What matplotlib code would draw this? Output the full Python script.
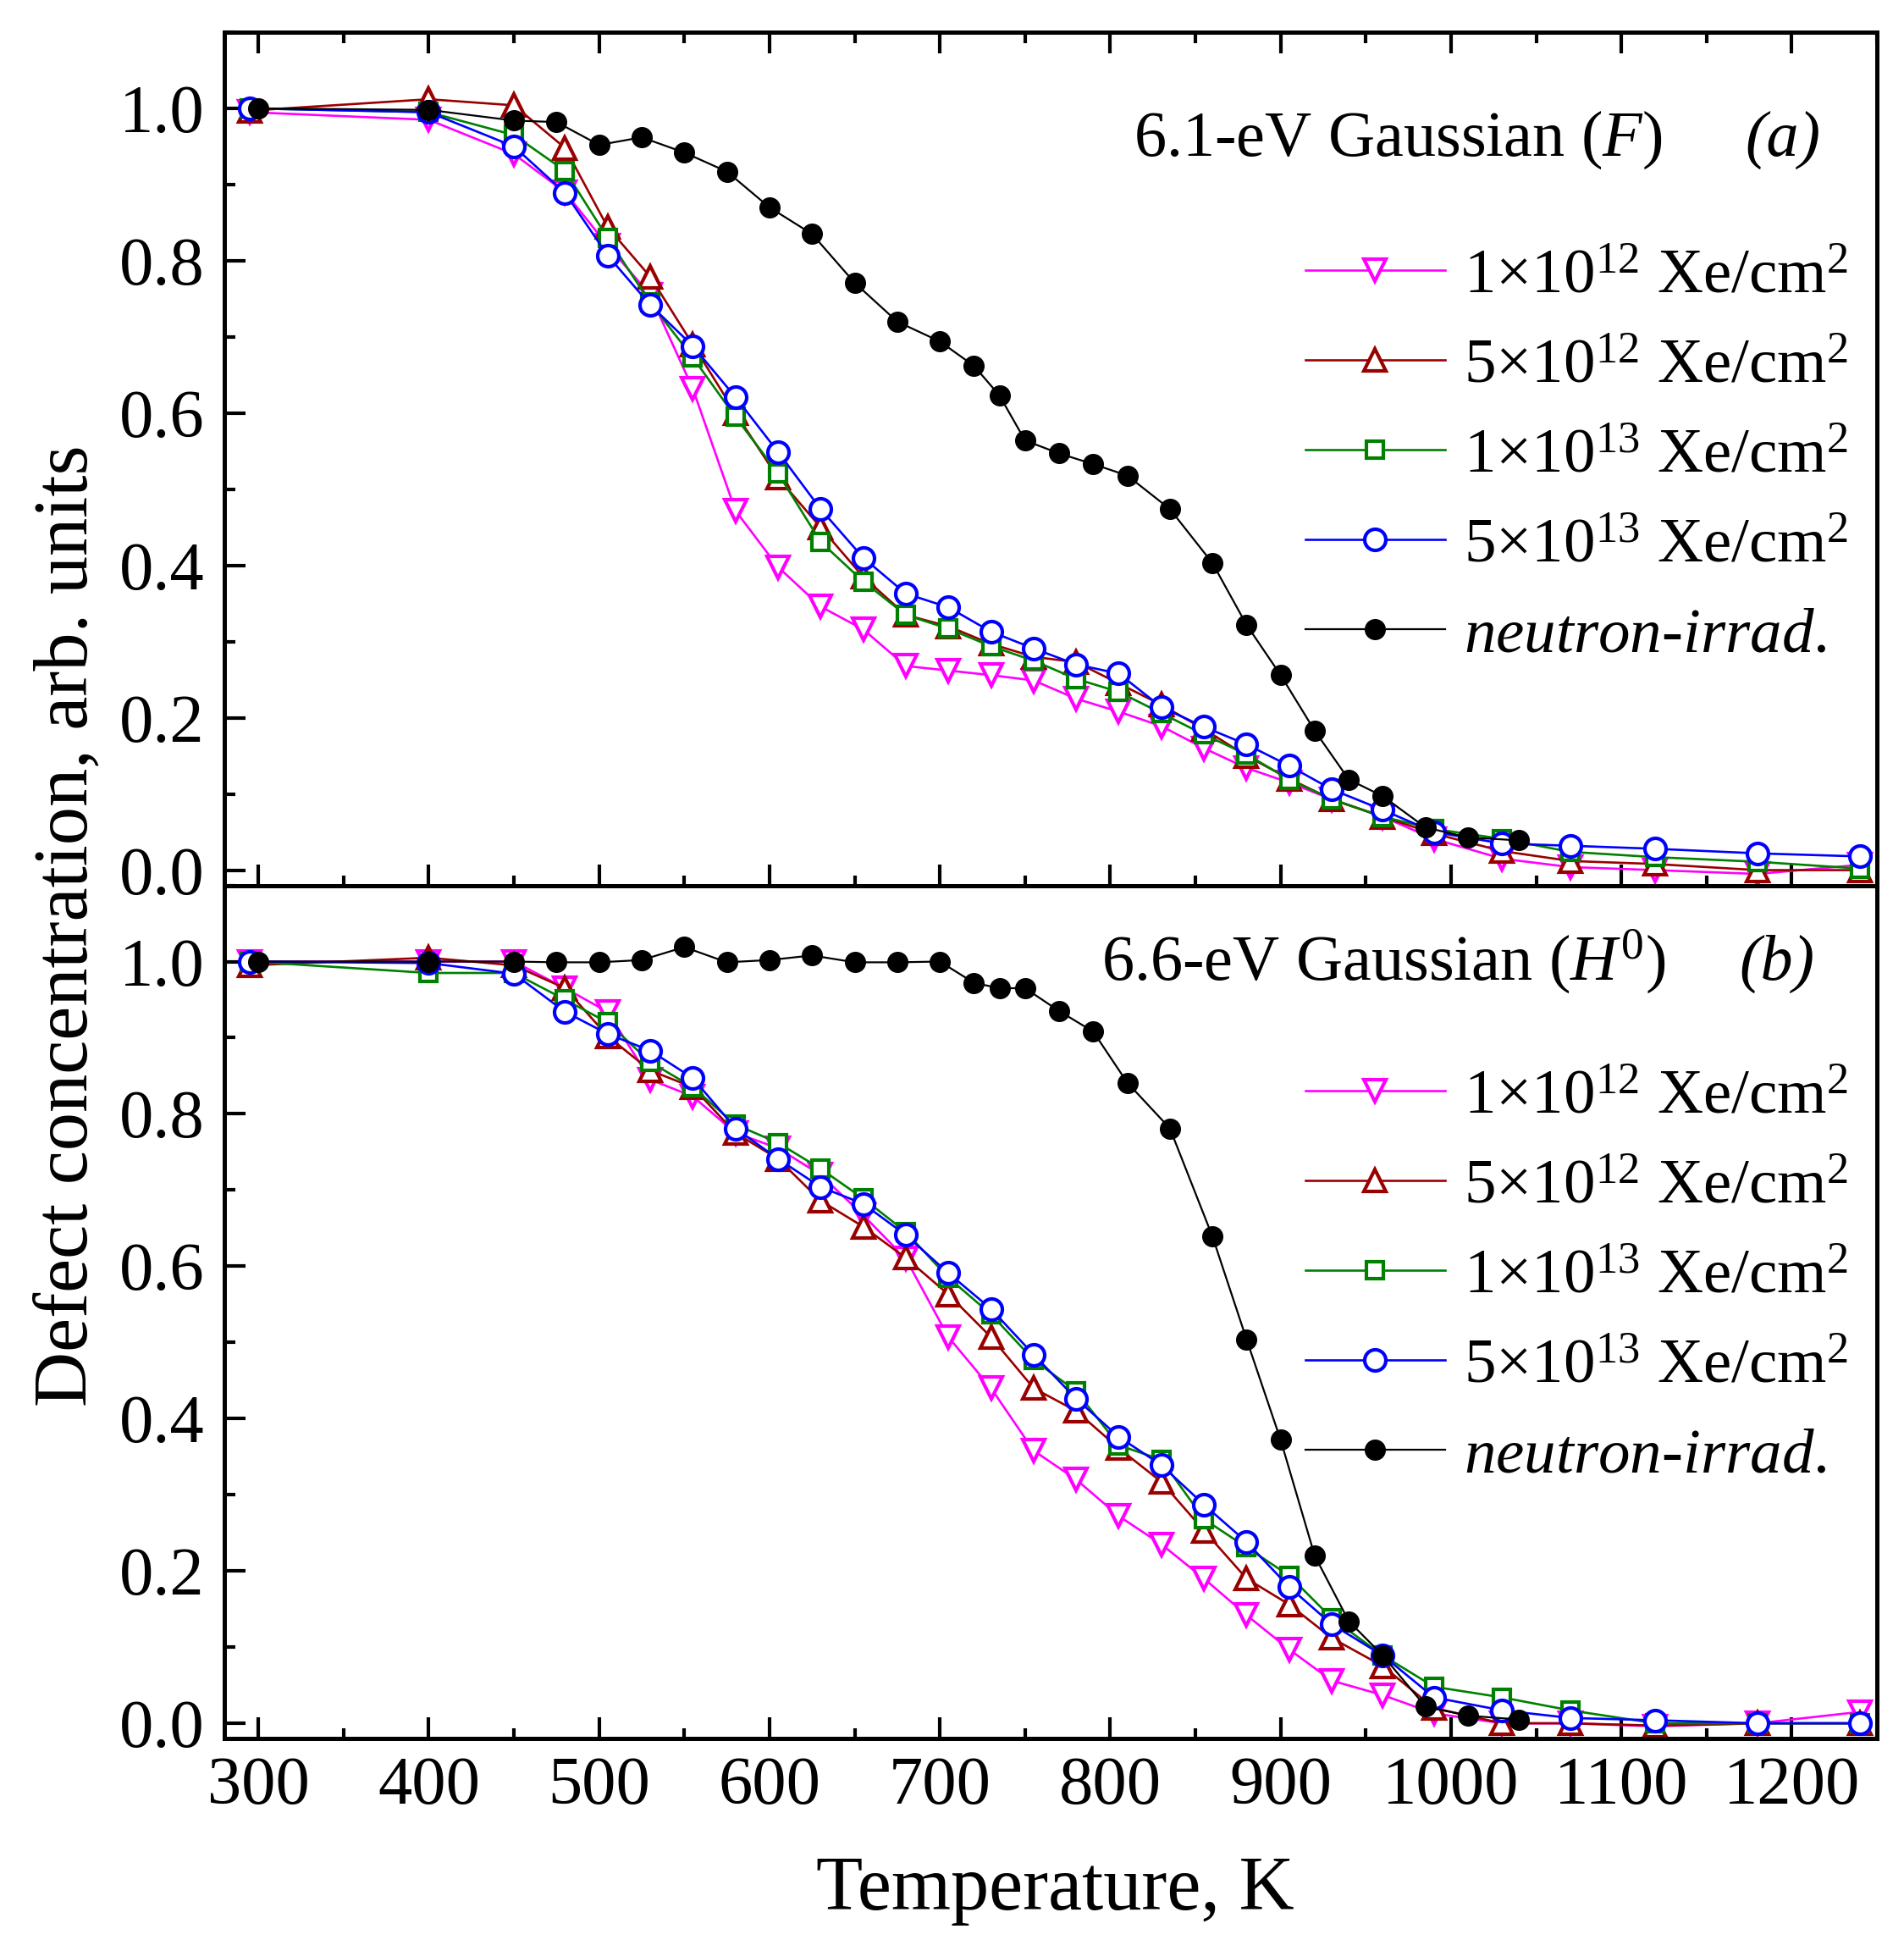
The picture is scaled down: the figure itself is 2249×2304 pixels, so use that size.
import matplotlib
matplotlib.use('Agg')
import matplotlib.pyplot as plt
from matplotlib.ticker import MultipleLocator, FormatStrFormatter

plt.rcParams['font.family'] = ['Liberation Serif', 'DejaVu Serif']
plt.rcParams['mathtext.fontset'] = 'custom'
plt.rcParams['mathtext.rm'] = 'Liberation Serif'
plt.rcParams['mathtext.it'] = 'Liberation Serif:italic'

# annealing temperatures, K
temp = [295, 400, 450, 480, 505, 530, 555, 580, 605, 630, 655, 680, 705, 730, 755,
        780, 805, 830, 855, 880, 905, 930, 960, 990, 1030, 1070, 1120, 1180, 1240]
temp_n = [300, 400, 450, 475, 500, 525, 550, 575, 600, 625, 650, 675, 700, 720, 735,
          750, 770, 790, 810, 835, 860, 880, 900, 920, 940, 960, 985, 1010, 1040]

# (a) 6.1-eV band (F centres)
a_1e12 = [0.995, 0.985, 0.94, 0.89, 0.82, 0.755, 0.632, 0.472, 0.398, 0.346, 0.316, 0.268,
          0.262, 0.256, 0.249, 0.225, 0.208, 0.189, 0.160, 0.134, 0.115, 0.093, 0.070,
          0.041, 0.015, 0.004, 0.0, -0.005, 0.007]
a_5e12 = [0.997, 1.012, 1.004, 0.948, 0.844, 0.779, 0.69, 0.60, 0.515, 0.45, 0.385, 0.335,
          0.32, 0.297, 0.28, 0.273, 0.245, 0.217, 0.185, 0.15, 0.12, 0.093, 0.07, 0.048,
          0.025, 0.012, 0.008, 0.0, 0.0]
a_1e13 = [1.0, 0.995, 0.965, 0.918, 0.83, 0.745, 0.673, 0.595, 0.521, 0.431, 0.379, 0.335,
          0.317, 0.294, 0.275, 0.251, 0.234, 0.206, 0.178, 0.152, 0.119, 0.093, 0.07,
          0.054, 0.041, 0.024, 0.017, 0.011, 0.002]
a_5e13 = [1.0, 0.995, 0.95, 0.889, 0.807, 0.742, 0.688, 0.621, 0.549, 0.474, 0.41, 0.363,
          0.345, 0.313, 0.291, 0.27, 0.258, 0.214, 0.188, 0.165, 0.137, 0.106, 0.079,
          0.05, 0.035, 0.032, 0.028, 0.022, 0.018]
a_neutron = [1.0, 0.998, 0.984, 0.982, 0.952, 0.962, 0.942, 0.917, 0.870, 0.835, 0.771,
             0.72, 0.694, 0.662, 0.623, 0.564, 0.547, 0.533, 0.518, 0.474, 0.403, 0.322,
             0.256, 0.183, 0.119, 0.097, 0.056, 0.043, 0.039]

# (b) 6.6-eV band (H0 centres)
b_1e12 = [1.0, 1.0, 1.0, 0.965, 0.934, 0.845, 0.823, 0.775, 0.755, 0.72, 0.667, 0.61,
          0.507, 0.44, 0.358, 0.32, 0.272, 0.235, 0.19, 0.142, 0.097, 0.056, 0.037,
          0.013, 0.0, 0.0, -0.004, 0.0, 0.015]
b_5e12 = [0.995, 1.005, 0.995, 0.965, 0.902, 0.857, 0.835, 0.775, 0.741, 0.686, 0.652,
          0.611, 0.563, 0.507, 0.44, 0.41, 0.361, 0.317, 0.253, 0.19, 0.156, 0.112,
          0.075, 0.02, 0.0, 0.0, -0.003, 0.0, 0.0]
b_1e13 = [1.0, 0.985, 0.985, 0.95, 0.92, 0.868, 0.835, 0.786, 0.762, 0.728, 0.689, 0.645,
          0.585, 0.537, 0.477, 0.436, 0.365, 0.346, 0.268, 0.231, 0.194, 0.138, 0.089,
          0.048, 0.034, 0.017, 0.0, 0.0, 0.0]
b_5e13 = [1.0, 0.998, 0.984, 0.934, 0.905, 0.883, 0.847, 0.781, 0.741, 0.704, 0.682,
          0.641, 0.591, 0.544, 0.484, 0.426, 0.376, 0.339, 0.287, 0.238, 0.179, 0.13,
          0.089, 0.034, 0.017, 0.007, 0.004, 0.0, 0.0]
b_neutron = [1.0, 1.0, 1.0, 0.999, 0.999, 1.002, 1.019, 0.999, 1.002, 1.008, 0.999, 0.999,
             1.0, 0.972, 0.965, 0.965, 0.935, 0.908, 0.841, 0.781, 0.639, 0.504, 0.372,
             0.22, 0.134, 0.089, 0.022, 0.01, 0.005]

labels = ['1\u00d710$^{12}$ Xe/cm$^{2}$', '5\u00d710$^{12}$ Xe/cm$^{2}$',
          '1\u00d710$^{13}$ Xe/cm$^{2}$', '5\u00d710$^{13}$ Xe/cm$^{2}$',
          r'$\it{neutron}$-$\it{irrad.}$']

# (color, marker, size, filled)
styles = [('#FF00FF', 'v', 19, False),
          ('#990000', '^', 19, False),
          ('#008000', 's', 14, False),
          ('#0000FF', 'o', 18, False),
          ('black', 'o', 17, True)]

panels = [
    dict(series=[a_1e12, a_5e12, a_1e13, a_5e13, a_neutron],
         title='6.1-eV Gaussian ($F$)', tag='(a)',
         title_pos=(0.870, 0.855), tag_pos=(0.966, 0.855), leg_pos=(0.654, 0.747)),
    dict(series=[b_1e12, b_5e12, b_1e13, b_5e13, b_neutron],
         title='6.6-eV Gaussian ($H^0$)', tag='(b)',
         title_pos=(0.872, 0.890), tag_pos=(0.962, 0.890), leg_pos=(0.654, 0.785)),
]

fig, axes = plt.subplots(2, 1, figsize=(22.49, 23.04), dpi=100, sharex=True)
fig.subplots_adjust(left=0.1178, right=0.9858, top=0.9835, bottom=0.1089, hspace=0)

for i, (ax, p) in enumerate(zip(axes, panels)):
    for k, (ys, lab, (col, mk, ms, filled)) in enumerate(zip(p['series'], labels, styles)):
        xs = temp_n if k == 4 else temp
        ax.plot(xs, ys, color=col, lw=1.6 if filled else 1.9, marker=mk, ms=ms,
                mew=3.0 if not filled else 1.0,
                mfc=col if filled else 'white', mec=col, label=lab)

    ax.set_xlim(280, 1250)
    ax.set_ylim(-0.02, 1.1)
    ax.xaxis.set_major_locator(MultipleLocator(100))
    ax.xaxis.set_minor_locator(MultipleLocator(50))
    ax.yaxis.set_major_locator(MultipleLocator(0.2))
    ax.yaxis.set_minor_locator(MultipleLocator(0.1))
    ax.yaxis.set_major_formatter(FormatStrFormatter('%.1f'))
    ax.tick_params(which='both', direction='in', top=(i == 0), right=False, width=3)
    ax.tick_params(which='major', length=18)
    ax.tick_params(which='minor', length=9)
    ax.tick_params(axis='y', labelsize=58, pad=17)
    ax.tick_params(axis='x', labelsize=58, pad=15)
    for sp in ax.spines.values():
        sp.set_linewidth(3.6)

    leg = ax.legend(loc='upper left', bbox_to_anchor=p['leg_pos'], frameon=False,
                    fontsize=54, handlelength=2.2, handletextpad=0.3, labelspacing=0.5,
                    borderpad=0, borderaxespad=0)

    ax.text(*p['title_pos'], p['title'], transform=ax.transAxes, ha='right',
            va='baseline', fontsize=55)
    ax.text(*p['tag_pos'], p['tag'], transform=ax.transAxes, ha='right',
            va='baseline', fontsize=55, style='italic')

fig.text(0.554, 0.0213, 'Temperature, K', ha='center', va='baseline', fontsize=65)
fig.text(0.0454, 0.5256, 'Defect concentration, arb. units', rotation=90,
         rotation_mode='anchor', ha='center', va='baseline', fontsize=65)

fig.savefig('out.png', dpi=100)
